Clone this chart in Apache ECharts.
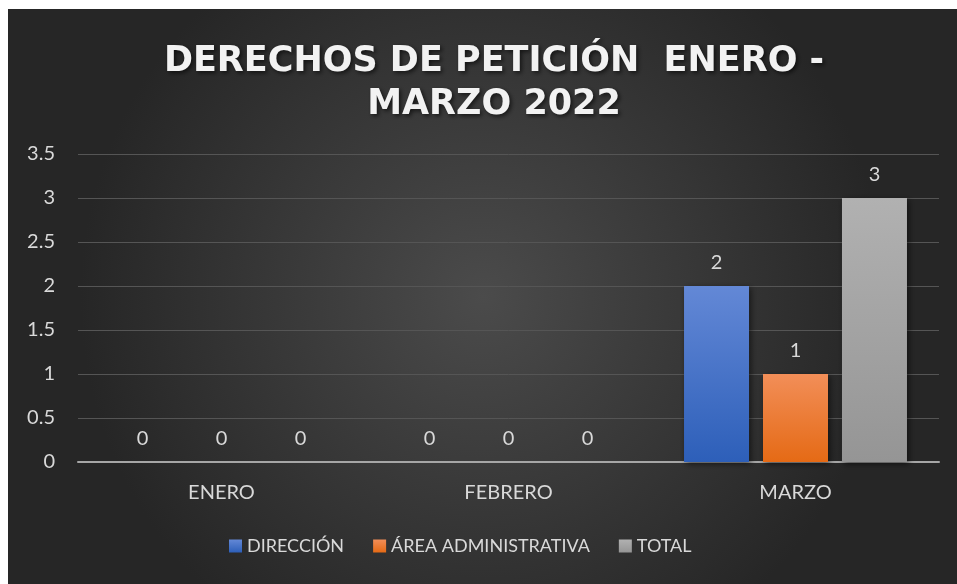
<!DOCTYPE html>
<html>
<head>
<meta charset="utf-8">
<script src="https://cdn.jsdelivr.net/npm/echarts@6/dist/echarts.min.js"></script>
<style>
  html, body { margin: 0; padding: 0; background: #fff; }
  #main { width: 957px; height: 584px; }
</style>
</head>
<body>
<div id="main"></div>
<script>
// datos del gráfico
const meses = ['ENERO', 'FEBRERO', 'MARZO'];
const direccion = [0, 0, 2];
const areaAdministrativa = [0, 0, 1];
const total = [0, 0, 3];
const nombresSeries = ['DIRECCIÓN', 'ÁREA ADMINISTRATIVA', 'TOTAL'];

const textColor = '#d9d9d9';
const font = 'Lato';

let grad = (top, bottom) => new echarts.graphic.LinearGradient(0, 0, 0, 1, [
    { offset: 0, color: top },
    { offset: 1, color: bottom }
]);

let barSerie = (name, data, color) => ({
    name: name,
    type: 'bar',
    data: data,
    barWidth: 65,
    barGap: '21.5%',
    itemStyle: {
        color: color,
        shadowBlur: 6,
        shadowColor: 'rgba(0,0,0,0.55)',
        shadowOffsetX: 2,
        shadowOffsetY: 2
    },
    label: {
        show: true,
        position: 'top',
        distance: 13,
        color: textColor,
        fontSize: 20,
        fontFamily: font
    }
});

let chart = echarts.init(document.getElementById('main'));
chart.setOption({
    animation: false,
    backgroundColor: '#ffffff',
    graphic: [{
        type: 'rect',
        z: -10,
        silent: true,
        shape: { x: 8, y: 9, width: 949, height: 575 },
        style: {
            fill: new echarts.graphic.RadialGradient(0.5, 0.5, 0.7, [
                { offset: 0, color: '#4b4b4b' },
                { offset: 1, color: '#262626' }
            ])
        }
    }],
    title: {
        text: 'DERECHOS DE PETICIÓN  ENERO -\nMARZO 2022',
        left: 489,
        textAlign: 'center',
        top: 35,
        textStyle: {
            color: '#f2f2f2',
            fontFamily: 'DejaVu Sans',
            fontWeight: 'bold',
            fontSize: 35,
            lineHeight: 43,
            textShadowColor: 'rgba(0,0,0,0.6)',
            textShadowBlur: 4,
            textShadowOffsetX: 2,
            textShadowOffsetY: 2
        }
    },
    legend: {
        data: nombresSeries,
        left: 229,
        top: 537,
        padding: 0,
        itemWidth: 13,
        itemHeight: 13,
        itemGap: 29,
        icon: 'rect',
        textStyle: { color: textColor, fontSize: 18, fontFamily: font }
    },
    grid: { left: 78, right: 18, top: 154, bottom: 122 },
    xAxis: {
        type: 'category',
        data: meses,
        axisTick: { show: false },
        axisLine: { lineStyle: { color: '#a6a6a6', width: 2 } },
        axisLabel: { color: textColor, fontSize: 20, fontFamily: font, margin: 21 }
    },
    yAxis: {
        type: 'value',
        min: 0,
        max: 3.5,
        interval: 0.5,
        axisLine: { show: false },
        axisTick: { show: false },
        splitLine: { lineStyle: { color: '#555555', width: 1 } },
        axisLabel: { color: textColor, fontSize: 20, fontFamily: font, margin: 23 }
    },
    series: [
        barSerie(nombresSeries[0], direccion, grad('#6388d6', '#2d5fb9')),
        barSerie(nombresSeries[1], areaAdministrativa, grad('#f28e58', '#e56a15')),
        barSerie(nombresSeries[2], total, grad('#b1b1b1', '#959595'))
    ]
});
</script>
</body>
</html>
